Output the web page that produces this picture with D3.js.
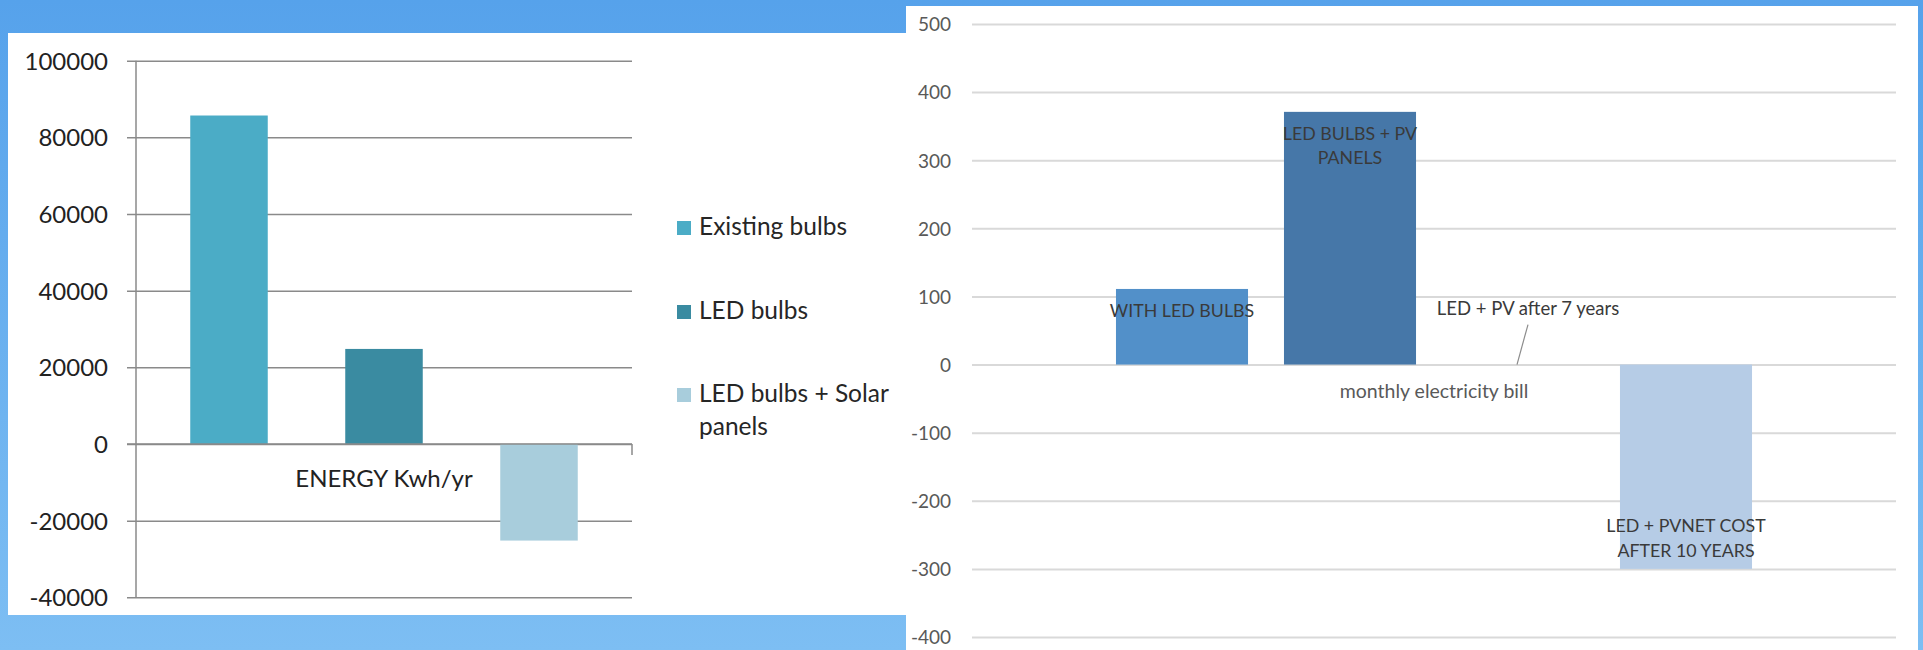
<!DOCTYPE html>
<html>
<head>
<meta charset="utf-8">
<script src="https://cdn.jsdelivr.net/npm/d3@7"></script>
<style>
  html, body { margin: 0; padding: 0; background: #5aa5ea; }
  svg { display: block; }
  text { font-family: Lato, "Open Sans", sans-serif; }
</style>
</head>
<body>
<svg id="chart" width="1923" height="650"></svg>
<script>
// ---------- Left chart data ----------
const leftCategories = ["ENERGY Kwh/yr"];
const leftSeries = ["Existing bulbs", "LED bulbs", "LED bulbs + Solar panels"];
const leftValues = [85700, 24800, -25200];
const leftTicks = [100000, 80000, 60000, 40000, 20000, 0, -20000, -40000];
const leftLegendLines = [["Existing bulbs"], ["LED bulbs"], ["LED bulbs + Solar", "panels"]];
const leftColors = ["#4bacc6", "#3a8ba1", "#a8cddc"];

// ---------- Right chart data ----------
const rightCategories = ["monthly electricity bill"];
const rightSeries = ["WITH LED BULBS", "LED BULBS + PV PANELS", "LED + PV after 7 years", "LED + PVNET COST AFTER 10 YEARS"];
const rightValues = [111, 371, 0, -300];
const rightTicks = [500, 400, 300, 200, 100, 0, -100, -200, -300, -400];
const rightLabelLines = [["WITH LED BULBS"], ["LED BULBS + PV", "PANELS"], ["LED + PV after 7 years"], ["LED + PVNET COST", "AFTER 10 YEARS"]];
const rightColors = ["#5290c9", "#4677a8", "#9fbfe0", "#b6cce6"];

const svg = d3.select("#chart");

// background
const defs = svg.append("defs");
const grad = defs.append("linearGradient").attr("id", "bg").attr("x1", 0).attr("y1", 0).attr("x2", 0).attr("y2", 1);
grad.append("stop").attr("offset", "0%").attr("stop-color", "#56a2eb");
grad.append("stop").attr("offset", "100%").attr("stop-color", "#7dbef3");
svg.append("rect").attr("width", 1923).attr("height", 650).attr("fill", "url(#bg)");

// panels
svg.append("rect").attr("x", 8).attr("y", 33).attr("width", 898).attr("height", 582).attr("fill", "#ffffff");
svg.append("rect").attr("x", 906).attr("y", 6).attr("width", 1012).attr("height", 644).attr("fill", "#ffffff");

// ================= LEFT CHART =================
{
  const g = svg.append("g");
  const y = d3.scaleLinear().domain([-40000, 100000]).range([597.3, 60.7]);
  const x0 = d3.scaleBand().domain(leftCategories).range([136, 632]).padding(0);
  const x1 = d3.scaleBand().domain(leftSeries).range([0, x0.bandwidth()]).paddingInner(0.5).paddingOuter(0.35);

  const yAxis = d3.axisLeft(y).tickValues(leftTicks).tickSize(-(632 - 136)).tickSizeOuter(0).tickPadding(19)
    .tickFormat(d => d3.format("d")(d).replace("−", "-"));
  const ga = g.append("g").attr("transform", "translate(136,0)").call(yAxis);
  ga.select(".domain").remove();
  ga.selectAll(".tick line").attr("stroke", "#8a8a8a").attr("stroke-width", 1.5).attr("x1", -9);
  ga.selectAll(".tick text").attr("fill", "#222").attr("font-size", 24).attr("x", -28).attr("dy", "0.36em");

  g.append("line").attr("x1", 136).attr("x2", 136).attr("y1", y(100000)).attr("y2", y(-40000))
    .attr("stroke", "#8a8a8a").attr("stroke-width", 1.5);

  g.selectAll("rect.bar").data(leftSeries).join("rect").attr("class", "bar")
    .attr("x", d => x0(leftCategories[0]) + x1(d))
    .attr("width", x1.bandwidth())
    .attr("y", (d, i) => y(Math.max(0, leftValues[i])))
    .attr("height", (d, i) => Math.abs(y(leftValues[i]) - y(0)))
    .attr("fill", (d, i) => leftColors[i]);

  g.append("line").attr("x1", 127).attr("x2", 632).attr("y1", y(0)).attr("y2", y(0))
    .attr("stroke", "#8a8a8a").attr("stroke-width", 1.5);
  g.append("line").attr("x1", 632).attr("x2", 632).attr("y1", y(0)).attr("y2", y(0) + 11)
    .attr("stroke", "#8a8a8a").attr("stroke-width", 1.5);

  g.append("text").attr("x", x0(leftCategories[0]) + x0.bandwidth() / 2).attr("y", y(0) + 43)
    .attr("text-anchor", "middle").attr("font-size", 24).attr("fill", "#222").text(leftCategories[0]);

  const legendY = [235, 319, 402];
  leftSeries.forEach((s, i) => {
    g.append("rect").attr("x", 677).attr("y", legendY[i] - 14).attr("width", 14).attr("height", 14).attr("fill", leftColors[i]);
    const t = g.append("text").attr("x", 699).attr("y", legendY[i]).attr("font-size", 24.5).attr("fill", "#262626");
    leftLegendLines[i].forEach((ln, j) => {
      t.append("tspan").attr("x", 699).attr("dy", j === 0 ? 0 : 33).text(ln);
    });
  });
}

// ================= RIGHT CHART =================
{
  const g = svg.append("g");
  const y = d3.scaleLinear().domain([-400, 500]).range([637, 24]);
  const x0 = d3.scaleBand().domain(rightCategories).range([972, 1896]).padding(0);
  const x1 = d3.scaleBand().domain(rightSeries).range([0, x0.bandwidth()]).paddingInner(0.214).paddingOuter(0.857);

  const yAxis = d3.axisLeft(y).tickValues(rightTicks).tickSize(-(1896 - 972)).tickSizeOuter(0).tickPadding(21)
    .tickFormat(d => String(d));
  const ga = g.append("g").attr("transform", "translate(972,0)").call(yAxis);
  ga.select(".domain").remove();
  ga.selectAll(".tick line").attr("stroke", "#d9d9d9").attr("stroke-width", 2).attr("x1", 0);
  ga.selectAll(".tick text").attr("fill", "#595959").attr("font-size", 19).attr("x", -21).attr("dy", "0.36em");

  g.selectAll("rect.bar").data(rightSeries).join("rect").attr("class", "bar")
    .attr("x", d => x0(rightCategories[0]) + x1(d))
    .attr("width", x1.bandwidth())
    .attr("y", (d, i) => y(Math.max(0, rightValues[i])))
    .attr("height", (d, i) => Math.abs(y(rightValues[i]) - y(0)))
    .attr("fill", (d, i) => rightColors[i]);

  rightSeries.forEach((s, i) => {
    const v = rightValues[i];
    const cx = x0(rightCategories[0]) + x1(s) + x1.bandwidth() / 2;
    const lines = rightLabelLines[i];
    let tx = cx, ty;
    if (v > 0) {
      ty = y(v) + 28;
    } else if (v < 0) {
      ty = y(v) - 12 - (lines.length - 1) * 24.5;
    } else {
      tx = cx + 10;
      ty = y(0) - 50;
      g.append("line").attr("x1", cx + 10).attr("y1", y(0) - 40).attr("x2", cx - 1).attr("y2", y(0))
        .attr("stroke", "#8c8c8c").attr("stroke-width", 1.2);
    }
    const t = g.append("text").attr("x", tx).attr("y", ty).attr("text-anchor", "middle")
      .attr("font-size", v === 0 ? 18.5 : 17.8).attr("fill", "#3a3a3a");
    lines.forEach((ln, j) => {
      t.append("tspan").attr("x", tx).attr("dy", j === 0 ? 0 : 24.5).text(ln);
    });
  });

  g.append("text").attr("x", x0(rightCategories[0]) + x0.bandwidth() / 2).attr("y", y(0) + 33)
    .attr("text-anchor", "middle").attr("font-size", 19.5).attr("fill", "#595959").text(rightCategories[0]);
}
</script>
</body>
</html>
